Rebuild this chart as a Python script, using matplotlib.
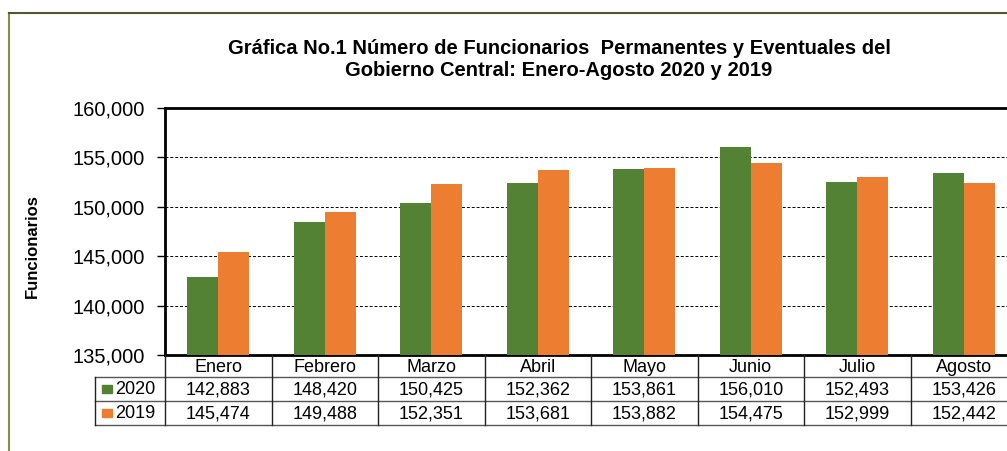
"""Grafica No.1: funcionarios permanentes y eventuales, 2020 vs 2019"""

import numpy as np
from matplotlib import pyplot as plt
from matplotlib.lines import Line2D
from matplotlib.patches import Rectangle
from matplotlib.ticker import FuncFormatter, MultipleLocator
from matplotlib.transforms import blended_transform_factory

# Data
meses = ["Enero", "Febrero", "Marzo", "Abril", "Mayo", "Junio", "Julio", "Agosto"]
anios = ["2020", "2019"]
v2020 = [142883, 148420, 150425, 152362, 153861, 156010, 152493, 153426]
v2019 = [145474, 149488, 152351, 153681, 153882, 154475, 152999, 152442]

GREEN = "#548235"
ORANGE = "#ED7D31"
W, H = 1007, 451

plt.rcParams["font.family"] = ["Liberation Sans", "DejaVu Sans"]

fig = plt.figure(figsize=(W / 100, H / 100), dpi=100)


def fy(py):
    # pixel row (from top) -> figure fraction
    return 1 - py / H


# plot area, right edge runs past the figure like in the original
ax = fig.add_axes([165 / W, fy(355), 852 / W, (355 - 108) / H])

x = np.arange(len(meses))
w = 0.29
ax.bar(x - w / 2, v2020, w, color=GREEN, zorder=3)
ax.bar(x + w / 2, v2019, w, color=ORANGE, zorder=3)

ax.set_xlim(-0.5, len(meses) - 0.5)
ax.set_ylim(135000, 160000)
ax.yaxis.set_major_locator(MultipleLocator(5000))
ax.yaxis.set_major_formatter(FuncFormatter(lambda v, p: f"{v:,.0f}"))
ax.tick_params(axis="y", labelsize=14.5, length=6, width=1, pad=8.5)
ax.set_xticks([])
ax.grid(axis="y", color="black", linestyle=(0, (3, 2)), linewidth=0.7, zorder=1)
for s in ["left", "top", "bottom", "right"]:
    ax.spines[s].set_linewidth(2)

ax.set_ylabel("Funcionarios", fontsize=12, fontweight="bold", labelpad=0)
ax.yaxis.set_label_coords(-(165 - 40) / 852, (355 - 246) / 247)

fig.text(559 / W, fy(48), "Gráfica No.1 Número de Funcionarios  Permanentes y Eventuales del",
         ha="center", va="center", fontsize=14.5, fontweight="bold")
fig.text(559 / W, fy(70), "Gobierno Central: Enero-Agosto 2020 y 2019",
         ha="center", va="center", fontsize=14.5, fontweight="bold")

# data table under the axis
tr = blended_transform_factory(ax.transData, fig.transFigure)
rows = [355, 377, 401, 425]
leg_left = -0.5 - 70 / 106.5
right = len(meses) - 0.5


def hline(x0, x1, py, c="#555555"):
    fig.add_artist(Line2D([x0, x1], [fy(py), fy(py)], transform=tr, color=c, lw=1))


def vline(xd, py0, py1, c="#222222"):
    fig.add_artist(Line2D([xd, xd], [fy(py0), fy(py1)], transform=tr, color=c, lw=1))


hline(leg_left, right, rows[1])
hline(leg_left, right, rows[2])
hline(leg_left, right, rows[3])
vline(leg_left, rows[1], rows[3])
for i in range(len(meses) + 1):
    vline(i - 0.5, rows[0], rows[3])

for i, m in enumerate(meses):
    fig.text(i, fy(367), m, transform=tr, ha="center", va="center", fontsize=13)
    fig.text(i, fy(390), f"{v2020[i]:,}", transform=tr, ha="center", va="center", fontsize=13)
    fig.text(i, fy(414), f"{v2019[i]:,}", transform=tr, ha="center", va="center", fontsize=13)

# legend keys in the first column
for py, col, lab in [(389, GREEN, anios[0]), (413, ORANGE, anios[1])]:
    fig.add_artist(Rectangle((102 / W, fy(py + 4)), 10 / W, 8 / H,
                             transform=fig.transFigure, color=col))
    fig.text(115 / W, fy(py + 1), lab, ha="left", va="center", fontsize=13)

# outer chart border
fig.add_artist(Line2D([9 / W, 9 / W], [fy(13), 0], transform=fig.transFigure,
                      color="#8c8c3c", lw=1.5))
fig.add_artist(Line2D([9 / W, 1], [fy(13), fy(13)], transform=fig.transFigure,
                      color="#55552f", lw=1.5))

fig.savefig("out.png", dpi=100)
